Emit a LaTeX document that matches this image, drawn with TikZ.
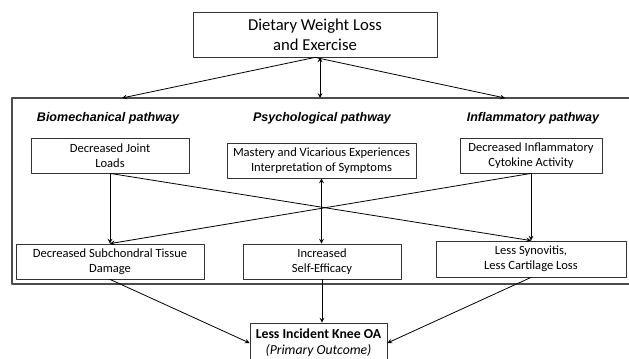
\documentclass[tikz,border=0pt]{standalone}
\usepackage{fontspec}
\setmainfont{Carlito}
\newfontfamily\arialfont{Liberation Sans}
\begin{document}
\begin{tikzpicture}[x=0.75pt, y=-0.75pt, line cap=round, line join=round, >=stealth, font=\fontsize{9.4}{11.3}\selectfont]
	\tikzset{box/.style={draw=black!80, line width=0.6pt, align=center, inner sep=0pt},
		path label/.style={font=\arialfont\bfseries\itshape\fontsize{9.4}{11.3}\selectfont},
		link/.style={->, line width=0.6pt}}
	\useasboundingbox (0,0) rectangle (629,358);
	\node[box, minimum width=183pt, minimum height=33.75pt, font=\fontsize{12.5}{15}\selectfont] (top) at (315,34.5) {Dietary Weight Loss\\and Exercise};
	\draw[line width=1pt, draw=black!70] (12,98) rectangle (645,284);
	\coordinate (bioin) at (122,98);
	\coordinate (psyin) at (320,98);
	\coordinate (infin) at (505,98);
	\node[path label] (bio) at (108,118) {Biomechanical pathway};
	\node[path label] (psy) at (322,118) {Psychological pathway};
	\node[path label] (inf) at (533,118) {Inflammatory pathway};
	\node[box, minimum width=118.5pt, minimum height=26.25pt] (joint) at (110,155.5) {Decreased Joint\\Loads};
	\node[box, minimum width=141.75pt, minimum height=26.25pt] (mastery) at (321.5,160.5) {Mastery and Vicarious Experiences\\Interpretation of Symptoms};
	\node[box, minimum width=106.5pt, minimum height=26.25pt] (cytokine) at (531,155.5) {Decreased Inflammatory\\Cytokine Activity};
	\node[box, minimum width=141pt, minimum height=26.25pt] (tissue) at (110,261.5) {Decreased Subchondral Tissue\\Damage};
	\node[box, minimum width=118.5pt, minimum height=26.25pt] (efficacy) at (322,261.5) {Increased\\Self-Efficacy};
	\node[box, minimum width=142.5pt, minimum height=27pt] (synovitis) at (531,259) {Less Synovitis,\\Less Cartilage Loss};
	\node[box, minimum width=102.75pt, minimum height=30pt, font=\fontsize{10.3}{12.3}\selectfont] (knee) at (318.5,343) {\textbf{Less Incident Knee OA}\\\textit{(Primary Outcome)}};
	\draw[link] (top.south) -- (bioin);
	\draw[link, <->] (top.south -| psyin) -- (psyin);
	\draw[link] (top.south) -- (infin);
	\draw[link] (joint.south) -- (tissue.north);
	\draw[link] (joint.south) -- (synovitis.north);
	\draw[link] (cytokine.south) -- (tissue.north);
	\draw[link] (cytokine.south) -- (synovitis.north);
	\draw[link, <->] (mastery.south) -- (mastery.south |- efficacy.north);
	\draw[link] (tissue.south) -- (knee.west);
	\draw[link] (efficacy.south) -- (efficacy.south |- knee.north);
	\draw[link] (synovitis.south) -- (knee.east);
\end{tikzpicture}
\end{document}
